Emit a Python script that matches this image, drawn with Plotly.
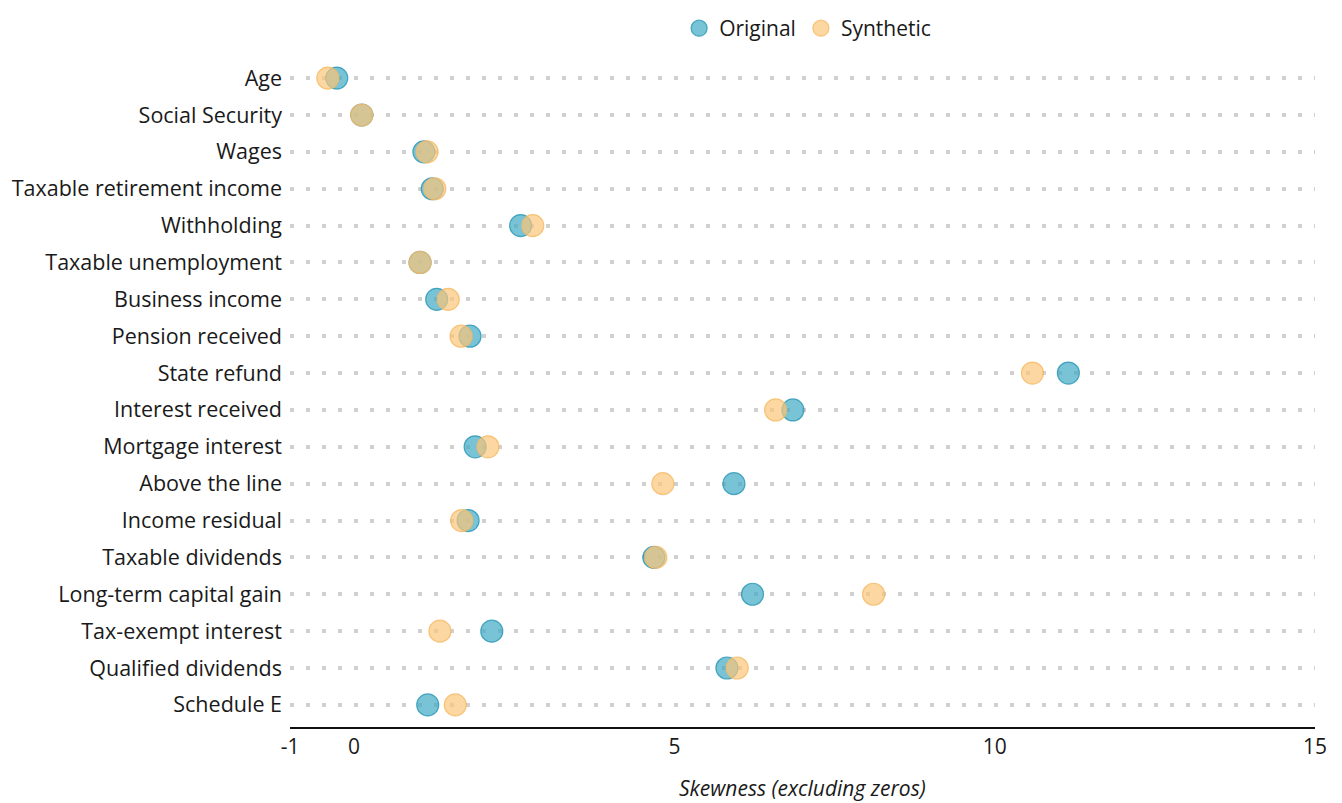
import plotly.graph_objects as go

categories = ["Age", "Social Security", "Wages", "Taxable retirement income", "Withholding",
              "Taxable unemployment", "Business income", "Pension received", "State refund",
              "Interest received", "Mortgage interest", "Above the line", "Income residual",
              "Taxable dividends", "Long-term capital gain", "Tax-exempt interest",
              "Qualified dividends", "Schedule E"]
original = [-0.27, 0.12, 1.09, 1.22, 2.6, 1.03, 1.29, 1.81, 11.15, 6.85, 1.89, 5.93, 1.78,
            4.68, 6.22, 2.15, 5.82, 1.15]
synthetic = [-0.41, 0.12, 1.14, 1.26, 2.79, 1.03, 1.47, 1.67, 10.59, 6.58, 2.09, 4.82, 1.68,
             4.71, 8.11, 1.34, 5.98, 1.58]
xticks = [-1, 0, 5, 10, 15]
x_title = "Skewness (excluding zeros)"

fig = go.Figure()
fig.add_trace(go.Scatter(
    x=original, y=categories, mode="markers", name="Original",
    marker=dict(size=22, color="rgba(63,169,196,0.7)", line=dict(width=1.2, color="rgba(40,150,180,0.8)")),
))
fig.add_trace(go.Scatter(
    x=synthetic, y=categories, mode="markers", name="Synthetic",
    marker=dict(size=22, color="rgba(252,198,121,0.7)", line=dict(width=1.2, color="rgba(245,185,100,0.8)")),
))

fig.add_annotation(text="<i>" + x_title + "</i>", xref="paper", yref="paper", x=0.5, y=-61 / 671,
                   xanchor="center", yanchor="middle", showarrow=False, font=dict(size=21))

fig.update_layout(
    width=1326, height=795,
    margin=dict(l=282, r=19, t=48, b=76, autoexpand=False),
    plot_bgcolor="white", paper_bgcolor="white",
    font=dict(family="Open Sans, sans-serif", size=21.5, color="#1a1a1a"),
    showlegend=True,
    legend=dict(orientation="h", x=0.505, xanchor="center", y=1, yref="container",
                yanchor="top", font=dict(size=21), itemsizing="trace"),
    xaxis=dict(range=[-1, 15], tickvals=xticks, ticktext=[str(t) for t in xticks],
               showgrid=False, zeroline=False, showline=True, linecolor="#111", linewidth=2,
               ticks="", tickfont=dict(size=21), automargin=False),
    yaxis=dict(range=[len(categories) - 0.4, -0.6], showgrid=True, gridcolor="#d0d0d0",
               gridwidth=3.5, griddash="3.5px,12.5px", zeroline=False, showline=False,
               ticks="", ticklabelstandoff=7, tickfont=dict(size=21.5), automargin=False),
)

fig.write_html("out.html")
